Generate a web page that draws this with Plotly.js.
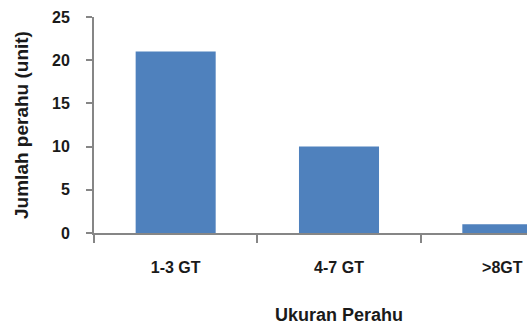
<!DOCTYPE html>
<html><head><meta charset="utf-8">
<script src="https://cdn.plot.ly/plotly-3.0.1.min.js"></script>
<style>html,body{margin:0;padding:0;overflow:hidden;width:527px;height:328px;background:#fff}</style>
</head><body><div id="chart" style="width:600px;height:328px"></div>
<script>
const categories = ["1-3 GT", "4-7 GT", ">8GT"];
const jumlahPerahu = [21, 10, 1];
const yTitle = "Jumlah perahu (unit)";
const xTitle = "Ukuran Perahu";
const fontFam = "'Liberation Sans', Arial, sans-serif";
Plotly.newPlot('chart', [{
  type: 'bar', x: categories, y: jumlahPerahu,
  marker: {color: '#4F81BD'}, width: 0.49, hoverinfo: 'none'
}], {
  width: 600, height: 328,
  margin: {l: 94, r: 16, t: 17, b: 95},
  paper_bgcolor: '#fff', plot_bgcolor: '#fff',
  showlegend: false,
  font: {family: fontFam, size: 15, color: '#1a1a1a', weight: 'bold'},
  xaxis: {
    type: 'category', tickson: 'boundaries', ticks: 'outside', ticklen: 8,
    tickcolor: '#868686', tickwidth: 2, showline: true, linecolor: '#868686', linewidth: 2,
    showgrid: false, zeroline: false, ticklabelstandoff: 19,
    tickfont: {family: fontFam, size: 16, weight: 'bold'},
    title: {text: xTitle, standoff: 33, font: {family: fontFam, size: 18, weight: 'bold'}}
  },
  yaxis: {
    range: [0, 25], dtick: 5, ticks: 'outside', ticklen: 6, tickcolor: '#868686', tickwidth: 2,
    showline: true, linecolor: '#868686', linewidth: 2, showgrid: false, zeroline: false,
    ticklabelstandoff: 13,
    tickfont: {family: fontFam, size: 16, weight: 'bold'},
    title: {text: yTitle, standoff: 18, font: {family: fontFam, size: 19, weight: 'bold'}}
  }
}, {staticPlot: true, displayModeBar: false});
</script></body></html>
